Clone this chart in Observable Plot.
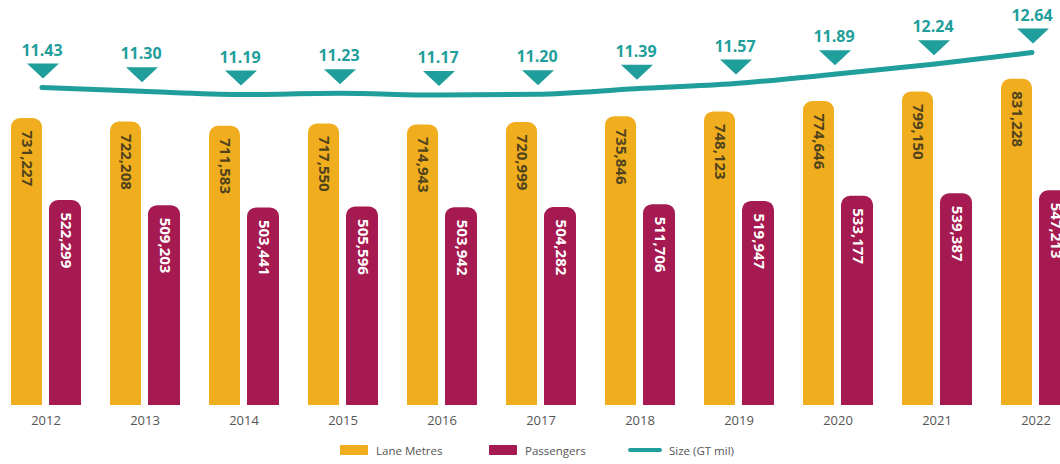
<!DOCTYPE html>
<html><head><meta charset="utf-8">
<script src="https://cdn.jsdelivr.net/npm/d3@7"></script>
<script src="https://cdn.jsdelivr.net/npm/@observablehq/plot@0.6"></script>
<style>
body{margin:0;background:#fff;font-family:"Open Sans",sans-serif;}
#chart{width:1060px;height:464px;overflow:hidden;}
#chart svg{display:block}
.legend{display:flex;align-items:center;height:28px;padding-left:340px;font-size:11.5px;color:#555;font-family:"Open Sans",sans-serif}
.legend .item{display:flex;align-items:center}
.legend .sw{width:28px;height:10px;margin-right:8px;border-radius:1px}
.legend .ln{width:34px;height:4px;margin-right:7px;border-radius:2px}
</style></head>
<body><div id="chart"></div>
<script>
const years = ["2012","2013","2014","2015","2016","2017","2018","2019","2020","2021","2022"];
const laneMetres = [731227, 722208, 711583, 717550, 714943, 720999, 735846, 748123, 774646, 799150, 831228];
const passengers = [522299, 509203, 503441, 505596, 503942, 504282, 511706, 519947, 533177, 539387, 547213];
const sizeGT = [11.43, 11.30, 11.19, 11.23, 11.17, 11.20, 11.39, 11.57, 11.89, 12.24, 12.64];
const seriesNames = ["Lane Metres", "Passengers", "Size (GT mil)"];

const colors = {lane: "#F0AD1E", pax: "#A51A50", size: "#1F9E9B", laneText: "#4f431d"};
const yDomain = [0, 1032000];
const sizeDomain = [0.44, 14.44];
const sizeToY = d3.scaleLinear().domain(sizeDomain).range(yDomain);
const fmt = d3.format(",");

const laneData = years.map((year, i) => ({year, value: laneMetres[i]}));
const paxData = years.map((year, i) => ({year, value: passengers[i]}));
const sizeData = years.map((year, i) => ({year, size: sizeGT[i], yv: sizeToY(sizeGT[i])}));

const tri = {draw(ctx, size) { const r = Math.sqrt(size / Math.PI); ctx.moveTo(-1.6 * r, -0.75 * r); ctx.lineTo(1.6 * r, -0.75 * r); ctx.lineTo(0, 0.75 * r); ctx.closePath(); }};

const W = 1060, H = 436;
const plot = Plot.plot({
  width: W, height: H,
  marginTop: 0, marginBottom: 31, marginLeft: 0, marginRight: 0,
  style: {fontFamily: "'Open Sans', sans-serif", background: "transparent", overflow: "hidden"},
  x: {type: "band", domain: years, range: [-5, 1085], padding: 0},
  y: {domain: yDomain, axis: null},
  marks: [
    Plot.barY(laneData, {x: "year", y: "value", fill: colors.lane, insetLeft: 15, insetRight: 53, insetBottom: -12, rx: 9, clip: true}),
    Plot.barY(paxData, {x: "year", y: "value", fill: colors.pax, insetLeft: 53, insetRight: 14, insetBottom: -12, rx: 9, clip: true}),
    Plot.text(laneData, {x: "year", y: "value", text: d => fmt(d.value), rotate: 90, textAnchor: "start", dx: -19, dy: 12, fill: colors.laneText, fontSize: 15, fontWeight: 700}),
    Plot.text(paxData, {x: "year", y: "value", text: d => fmt(d.value), rotate: 90, textAnchor: "start", dx: 19.5, dy: 12, fill: "#fff", fontSize: 15, fontWeight: 700}),
    Plot.line(sizeData, {x: "year", y: "yv", stroke: colors.size, strokeWidth: 5, curve: "monotone-x", dx: -4, strokeLinecap: "round"}),
    Plot.dot(sizeData, {x: "year", y: "yv", symbol: tri, r: 10, fill: colors.size, stroke: "none", dx: -3, dy: -16.5}),
    Plot.text(sizeData, {x: "year", y: "yv", text: d => d.size.toFixed(2), fill: colors.size, fontSize: 16, fontWeight: 700, dx: -4, dy: -37}),
    Plot.axisX({tickSize: 0, tickPadding: 10, fontSize: 13, color: "#555", label: null})
  ]
});
const chart = document.getElementById("chart");
chart.appendChild(plot);
const legend = document.createElement("div");
legend.className = "legend";
legend.innerHTML =
  `<div class="item" style="width:149px"><div class="sw" style="background:${colors.lane}"></div><span>${seriesNames[0]}</span></div>` +
  `<div class="item" style="width:139px"><div class="sw" style="background:${colors.pax}"></div><span>${seriesNames[1]}</span></div>` +
  `<div class="item"><div class="ln" style="background:${colors.size}"></div><span>${seriesNames[2]}</span></div>`;
chart.appendChild(legend);
</script>
</body></html>
